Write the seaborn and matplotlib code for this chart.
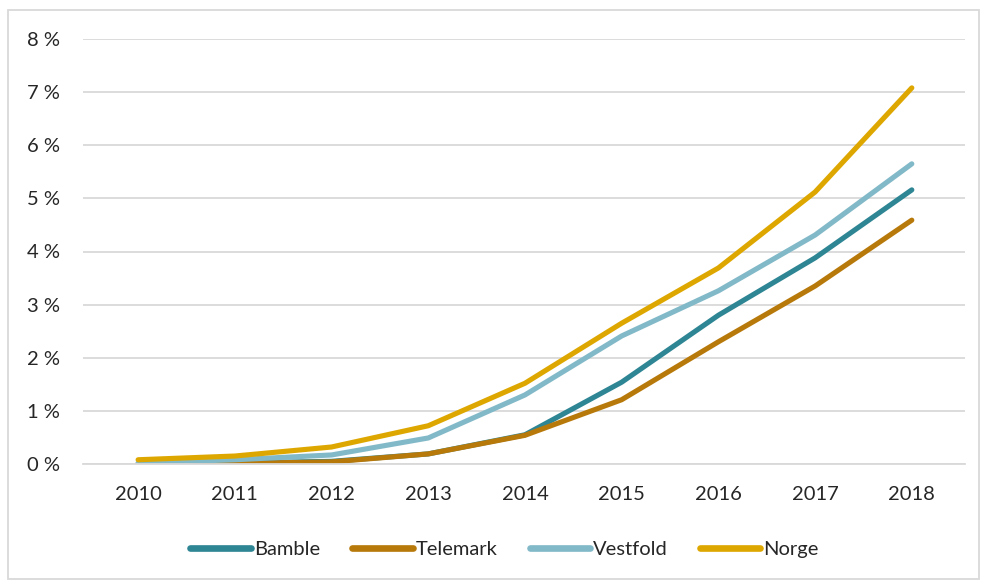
import matplotlib
matplotlib.use("Agg")
import matplotlib.pyplot as plt
import seaborn as sns
import pandas as pd
from matplotlib.patches import Rectangle

years = [2010, 2011, 2012, 2013, 2014, 2015, 2016, 2017, 2018]
bamble = [0.00, 0.02, 0.05, 0.19, 0.55, 1.54, 2.80, 3.88, 5.16]
telemark = [0.00, 0.01, 0.04, 0.19, 0.54, 1.21, 2.30, 3.35, 4.59]
vestfold = [0.02, 0.08, 0.17, 0.49, 1.30, 2.41, 3.26, 4.31, 5.65]
norge = [0.08, 0.15, 0.32, 0.72, 1.52, 2.65, 3.69, 5.12, 7.08]
series = ["Bamble", "Telemark", "Vestfold", "Norge"]
colors = ["#2E8594", "#B8790B", "#82B9C8", "#DEA700"]
yticks = [0, 1, 2, 3, 4, 5, 6, 7, 8]

rows = []
for name, vals in zip(series, [bamble, telemark, vestfold, norge]):
    for i, (y, v) in enumerate(zip(years, vals)):
        rows.append({"idx": i, "year": y, "value": v, "serie": name})
df = pd.DataFrame(rows)

sns.set_theme(style="white")
plt.rcParams["font.family"] = ["Lato", "DejaVu Sans"]

fig = plt.figure(figsize=(9.81, 5.81), dpi=100)
ax = fig.add_axes([83/981, 1-464/581, (965-83)/981, (464-39)/581])

sns.lineplot(data=df, x="idx", y="value", hue="serie", hue_order=series,
             palette=colors, linewidth=3.7, ax=ax, legend=True,
             solid_capstyle="round")

ax.set_xlim(-0.57, 8.55)
ax.set_ylim(0, 8)
ax.set_yticks(yticks)
ax.set_yticklabels([f"{t} %" for t in yticks])
ax.set_xticks(range(len(years)))
ax.set_xticklabels([str(y) for y in years])
ax.grid(axis="y", color="#D9D9D9", linewidth=1.3)
ax.grid(axis="x", visible=False)
for s in ["top", "right", "left"]:
    ax.spines[s].set_visible(False)
ax.spines["bottom"].set_color("#D9D9D9")
ax.spines["bottom"].set_linewidth(1.3)
ax.tick_params(axis="y", length=0, pad=16.5, labelsize=14.5, labelcolor="#262626")
ax.tick_params(axis="x", length=0, pad=16, labelsize=14.5, labelcolor="#262626")
ax.set_xlabel("")
ax.set_ylabel("")

handles, labels = ax.get_legend_handles_labels()
leg = ax.legend(handles, labels, loc="center",
                bbox_to_anchor=(0.478, (1-549/581 - (1-464/581))/((464-39)/581)),
                ncol=4, frameon=False, fontsize=14.5, handlelength=3.0,
                handletextpad=0.15, columnspacing=1.6)
for h in leg.get_lines():
    h.set_linewidth(4.8)
    h.set_solid_capstyle("round")
for t in leg.get_texts():
    t.set_color("#262626")

fig.patches.append(Rectangle((8/981, 1-579/581), (979-8)/981, (579-10)/581,
                             transform=fig.transFigure, fill=False,
                             edgecolor="#D9D9D9", linewidth=1.3))

fig.savefig("out.png", dpi=100)
